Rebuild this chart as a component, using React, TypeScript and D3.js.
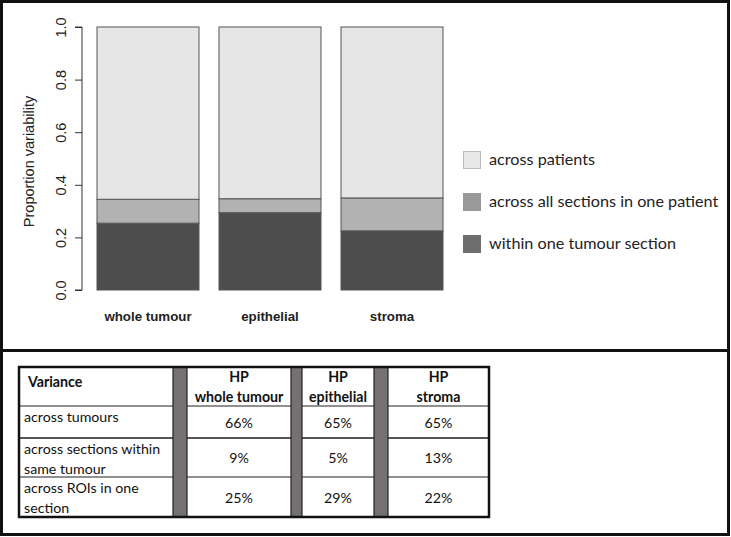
import React, { useEffect, useRef } from 'react';
import * as d3 from 'd3';

const categories = ['whole tumour', 'epithelial', 'stroma'];
const withinSection = [0.254, 0.294, 0.225];
const acrossSections = [0.091, 0.053, 0.125];
const acrossPatients = [0.655, 0.653, 0.65];
const yTicks = [0, 0.2, 0.4, 0.6, 0.8, 1.0];
const legendLabels = ['across patients', 'across all sections in one patient', 'within one tumour section'];

const tableHeaders = ['whole tumour', 'epithelial', 'stroma'];
const tableRowLabels = [['across tumours'], ['across sections within', 'same tumour'], ['across ROIs in one', 'section']];
const pctTumours = ['66%', '65%', '65%'];
const pctSections = ['9%', '5%', '13%'];
const pctRois = ['25%', '29%', '22%'];

const W = 731;
const H = 537;
const axisFont = 'Liberation Sans, Arial, sans-serif';
const docFont = 'Lato, "Open Sans", sans-serif';

const App = () => {
  const ref = useRef<SVGSVGElement>(null);

  useEffect(() => {
    document.body.style.margin = '0';
    const svg = d3.select(ref.current);
    svg.selectAll('*').remove();

    svg.append('rect').attr('width', W).attr('height', H).attr('fill', '#fff');

    // frames
    svg.append('rect').attr('x', 1.5).attr('y', 1.5).attr('width', 727).attr('height', 349)
      .attr('fill', 'none').attr('stroke', '#111').attr('stroke-width', 3);
    svg.append('rect').attr('x', 1.5).attr('y', 350.5).attr('width', 727).attr('height', 184)
      .attr('fill', 'none').attr('stroke', '#111').attr('stroke-width', 3);

    // ---- stacked bar chart ----
    const rows = categories.map((c, i) => ({
      cat: c, within: withinSection[i], sections: acrossSections[i], patients: acrossPatients[i],
    }));
    const keys = ['within', 'sections', 'patients'];
    const fills = ['#4d4d4d', '#b2b2b2', '#e6e6e6'];
    const stack = d3.stack<any>().keys(keys)(rows);

    const x = d3.scaleBand().domain(categories).range([97, 443]).paddingInner(0.164).paddingOuter(0);
    const y = d3.scaleLinear().domain([0, 1]).range([290, 27]);

    const g = svg.append('g');
    stack.forEach((layer, li) => {
      g.selectAll(null).data(layer).enter().append('rect')
        .attr('x', (d: any) => x(d.data.cat)!)
        .attr('y', (d) => y(d[1]))
        .attr('width', x.bandwidth())
        .attr('height', (d) => y(d[0]) - y(d[1]))
        .attr('fill', fills[li])
        .attr('stroke', '#555')
        .attr('stroke-width', 1);
    });

    const axis = svg.append('g').attr('transform', 'translate(82,0)')
      .call(d3.axisLeft(y).tickValues(yTicks).tickSize(7).tickFormat(d3.format('.1f')));
    axis.attr('font-size', null).attr('font-family', null);
    axis.select('.domain').attr('stroke', '#333').attr('d', `M-7,${y(0)}H0V${y(1)}H-7`);
    axis.selectAll('.tick line').attr('stroke', '#333');
    axis.selectAll('.tick text')
      .style('font-family', axisFont).style('font-size', '14.5px').attr('fill', '#222')
      .attr('x', null).attr('dy', null)
      .attr('text-anchor', 'middle')
      .attr('transform', 'translate(-20,0) rotate(-90)')
      .attr('dominant-baseline', 'middle');

    svg.append('text')
      .attr('transform', `translate(34,${(y(0) + y(1)) / 2 + 3}) rotate(-90)`)
      .attr('text-anchor', 'middle')
      .style('font-family', axisFont).style('font-size', '14.5px').attr('fill', '#222')
      .text('Proportion variability');

    svg.selectAll('.catlab').data(categories).enter().append('text')
      .attr('x', (d) => x(d)! + x.bandwidth() / 2)
      .attr('y', 321)
      .attr('text-anchor', 'middle')
      .style('font-family', axisFont).style('font-size', '13.3px').attr('font-weight', 'bold').attr('fill', '#222')
      .text((d) => d);

    // legend
    const legFill = ['#e8e8e8', '#999999', '#6e6e6e'];
    const legStroke = ['#bbb', '#999', '#6e6e6e'];
    const leg = svg.append('g');
    legendLabels.forEach((l, i) => {
      const yy = 151 + i * 42;
      leg.append('rect').attr('x', 463.5).attr('y', yy + 0.5).attr('width', 17).attr('height', 17)
        .attr('fill', legFill[i]).attr('stroke', legStroke[i]);
      leg.append('text').attr('x', 489).attr('y', yy + 14)
        .style('font-family', docFont).style('font-size', '16.2px').attr('fill', '#222').text(l);
    });

    // ---- table ----
    const colEdges = [19, 173, 187, 291, 302, 374, 388, 489];
    const rowEdges = [367, 406, 438, 477, 517];
    const t = svg.append('g');
    rowEdges.slice(1, -1).forEach((ry, i) => {
      t.append('line').attr('x1', colEdges[0]).attr('x2', colEdges[7]).attr('y1', ry).attr('y2', ry)
        .attr('stroke', i === 1 ? '#555' : '#222').attr('stroke-width', i === 1 ? 2 : 1.2);
    });
    [1, 3, 5].forEach((ci) => {
      t.append('rect').attr('x', colEdges[ci]).attr('y', rowEdges[0]).attr('width', colEdges[ci + 1] - colEdges[ci])
        .attr('height', rowEdges[4] - rowEdges[0]).attr('fill', '#757171').attr('stroke', '#222').attr('stroke-width', 1.2);
    });
    t.append('rect').attr('x', colEdges[0]).attr('y', rowEdges[0]).attr('width', colEdges[7] - colEdges[0])
      .attr('height', rowEdges[4] - rowEdges[0]).attr('fill', 'none').attr('stroke', '#111').attr('stroke-width', 2.5);

    const txt = (xx: number, yy: number, s: string, anchor: string, bold = false) =>
      t.append('text').attr('x', xx).attr('y', yy).attr('text-anchor', anchor)
        .style('font-family', docFont).style('font-size', '14.2px').attr('font-weight', bold ? 'bold' : 'normal')
        .attr('fill', '#111').text(s);

    txt(28, 387, 'Variance', 'start', true);
    const dataCols = [[187, 291], [302, 374], [388, 489]];
    tableHeaders.forEach((h, i) => {
      const cx = (dataCols[i][0] + dataCols[i][1]) / 2;
      txt(cx, 382, 'HP', 'middle', true);
      txt(cx, 402, h, 'middle', true);
    });
    tableRowLabels.forEach((lines, ri) => {
      lines.forEach((s, li) => txt(24, rowEdges[ri + 1] + 16 + li * 20, s, 'start'));
    });
    [pctTumours, pctSections, pctRois].forEach((vals, ri) => {
      const cy = (rowEdges[ri + 1] + rowEdges[ri + 2]) / 2 + 5.5;
      vals.forEach((v, ci) => {
        const cx = (dataCols[ci][0] + dataCols[ci][1]) / 2;
        txt(cx, cy, v, 'middle');
      });
    });
  }, []);

  return <svg ref={ref} width={W} height={H} style={{ display: 'block' }} />;
};

export default App;
